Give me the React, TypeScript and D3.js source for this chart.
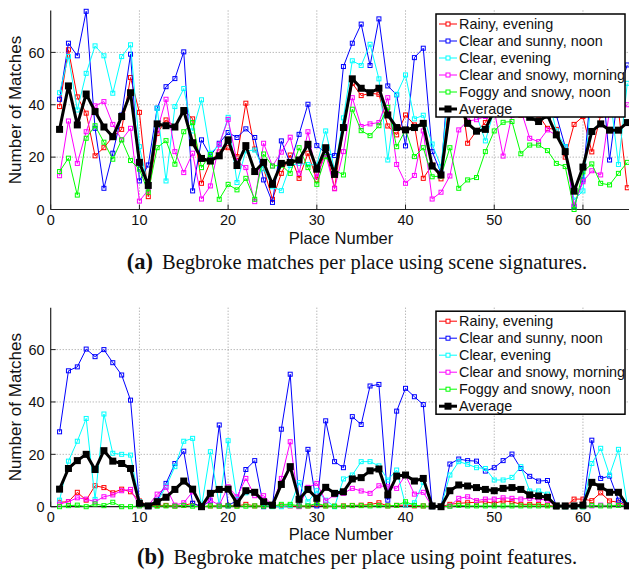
import React from 'react';
import * as d3 from 'd3';

const placeNumbers = d3.range(1, 66);
const seriesNames = ['Rainy, evening', 'Clear and sunny, noon', 'Clear, evening', 'Clear and snowy, morning', 'Foggy and snowy, noon', 'Average'];
const seriesColors = ['#ff0000', '#0000ff', '#00ffff', '#ff00ff', '#00ff00', '#000000'];
const xTicks = [0, 10, 20, 30, 40, 50, 60];
const yTicks = [0, 20, 40, 60];

// (a) scene signatures
const sceneRainy = [39.3, 61, 43, 36.8, 20.5, 23.6, 27.8, 30.6, 50.4, 37.1,
  4.9, 29, 34.2, 31.7, 38, 34.6, 10, 18.3, 22, 23.6,
  20.2, 40.6, 23.1, 15.7, 3.9, 13.8, 20.8, 11.9, 21.5, 11.3,
  23.4, 8.1, 31, 48.2, 43.5, 44.4, 44, 31.9, 28.5, 36.1,
  32.3, 11.9, 17, 11.7, 45, 50, 25.3, 30, 33.2, 40,
  42, 38, 36, 40, 36, 31, 30.6, 20, 32.5, 35.5,
  22, 36, 40, 38, 8.3];
const sceneSunny = [42.1, 63.5, 58.7, 75.7, 31, 8.1, 21.5, 36.1, 59.3, 10.9,
  17, 38.7, 46.9, 50, 60.2, 7.1, 26.6, 20.4, 25.3, 29.4,
  27.5, 30.8, 27.5, 11.3, 2.7, 26.2, 17.6, 28.7, 40.2, 24.4,
  21.5, 20.6, 54.6, 63.5, 70.8, 55, 72.8, 47.2, 43.8, 24.3,
  58, 61.6, 22.1, 14, 58, 60, 50, 38, 36, 45,
  48, 46, 44, 44, 42, 52, 36, 24, 1.1, 11.3,
  50, 55, 18.9, 45, 55.2];
const sceneClear = [44.6, 58.4, 38, 52, 62.5, 58.7, 44.4, 58.4, 62.9, 24,
  8.7, 38.7, 10.9, 39.3, 46.2, 30, 41.9, 21.5, 24.6, 35.2,
  10.3, 22.4, 22.7, 15.5, 8.7, 7.2, 16.8, 17.6, 17.2, 17,
  30, 15.1, 35, 56.8, 55, 63.1, 49.9, 18.9, 44, 51.4,
  34.6, 36, 25, 16.4, 50, 55, 44, 36, 26.2, 38,
  42, 40, 44, 40, 39.5, 44, 30, 24, 3.6, 7.1,
  44.8, 49, 45, 17.2, 48.2];
const sceneSnowy = [12.9, 33.8, 17.6, 29.7, 39.6, 41.2, 32.5, 26.6, 31, 3.2,
  7.5, 30.1, 42.1, 22.1, 14.1, 21.5, 4, 9, 24.9, 34.4,
  18.3, 16, 3, 25.3, 16.6, 21.9, 27.6, 13.8, 29.7, 12.5,
  21.2, 7.9, 22.1, 42.7, 31.7, 32.7, 33.2, 42.7, 17.2, 10,
  13, 30, 4, 6.6, 12.8, 30.4, 33.8, 34.3, 35.5, 38,
  20.4, 36, 38, 27.2, 25.9, 30.4, 28.3, 22, 1.7, 10.6,
  14.8, 13.2, 38, 37.5, 40];
const sceneFoggy = [14.5, 19.6, 5.5, 27.2, 32, 25.7, 19.2, 26.6, 18.7, 15.4,
  6.6, 23.6, 26.3, 17.3, 29.7, 33.2, 16, 21, 3.9, 9.6,
  7.5, 11.9, 3.9, 21.2, 16.6, 16.9, 13.8, 23.6, 16, 9.6,
  20.2, 15.1, 13.2, 38.3, 30.1, 28.2, 32, 39, 24, 30.4,
  20.2, 23.6, 12.5, 12.8, 23.6, 8.1, 11.3, 12.2, 22.1, 30,
  33.3, 33.6, 21.3, 24.6, 24.6, 22.5, 17.6, 16.4, 0, 14.4,
  17.4, 10, 9.4, 13.8, 18];
const sceneAverage = [30.6, 47.2, 32.3, 44.1, 37.4, 31.5, 27.8, 35.5, 44.6, 18,
  9.2, 32.7, 32, 31.5, 37.8, 25.5, 19.5, 18.5, 20.5, 26.6,
  16.8, 24.4, 14.5, 18, 9.6, 17.6, 18, 18.9, 24.9, 15.4,
  23.6, 13.4, 31.3, 49.9, 46.3, 44.6, 46.3, 36.1, 31.3, 30.4,
  31.3, 32.9, 16.6, 13.2, 38, 40.7, 32.9, 29.9, 30.6, 38,
  37, 38.7, 36.7, 35.2, 33.6, 36, 28.5, 22.1, 7, 16.2,
  29.8, 32.7, 30.3, 30.3, 33.2];

// (b) point features
const pointRainy = [1.7, 1.9, 5.5, 2.5, 8, 7.3, 5.3, 6.7, 5.7, 2.2,
  0.4, 0.5, 0.5, 0.3, 0.5, 1.3, 0, 0.3, 0.3, 0.5,
  0.3, 0.9, 0.3, 0.3, 0.2, 0.3, 0.3, 0.2, 0.3, 0.8,
  0.3, 0.2, 0.3, 0.5, 0.6, 0.8, 1.5, 0.3, 0.5, 0.6,
  0.3, 0.3, 0, 0, 0.9, 1.3, 1.5, 1.7, 1.9, 1.3,
  2.2, 1.9, 0.9, 0.9, 0.9, 0.6, 0, 0, 2.9, 2.9,
  2.3, 5.3, 2.2, 1.7, 0.3];
const pointSunny = [28.6, 51.9, 53.4, 60.2, 57.3, 60, 55, 50.3, 40.7, 1.3,
  0, 2.5, 8.9, 16.5, 21.2, 1.3, 0, 2.2, 31.2, 0.3,
  2.5, 14.2, 17.6, 0, 0.4, 29.6, 50.6, 0.4, 21.9, 0.3,
  32.8, 17.2, 14.9, 34.4, 31.4, 46.1, 46.7, 2.5, 36.5, 45.2,
  42, 39, 0, 0, 16.3, 18.2, 17.6, 17.4, 13.6, 14.9,
  17.6, 20.1, 14.6, 11.6, 9.8, 10, 0.3, 0, 0, 0,
  25.4, 10.8, 11.7, 2.5, 0.6];
const pointClear = [2.5, 17.4, 25, 33.7, 2.8, 35.4, 20.4, 20, 19.7, 1.9,
  0.4, 1.9, 7.6, 15.3, 25, 26.1, 0, 21, 0.6, 25.2,
  2.8, 5.3, 5.3, 1.3, 0, 0, 0.4, 9.2, 1.9, 6.1,
  2.5, 0, 10.6, 12.1, 17.2, 17.2, 15.6, 10.2, 14, 0.6,
  1.5, 9.3, 0, 0, 12.1, 17.2, 16.2, 14.9, 14.6, 10.2,
  10.2, 11.2, 15.3, 6, 6, 4.8, 0, 0, 0, 0,
  16.5, 22.3, 12.1, 21.9, 0.6];
const pointSnowy = [1, 1.9, 3.4, 2.9, 1.9, 3.8, 4.5, 6.1, 6.6, 0.4,
  0.4, 4.8, 7.4, 0.6, 1.5, 5.7, 0, 2.5, 0.6, 7.6,
  3.8, 10.8, 4.2, 4.2, 0.4, 10.8, 24.8, 0, 7.4, 8.9,
  2.2, 4.5, 5.1, 7, 6, 5.1, 8, 7.6, 7, 12.1,
  4.8, 5.5, 0, 0, 0.3, 3.2, 3.8, 2.3, 2.9, 2.9,
  3.4, 3.2, 2.9, 3.2, 2.9, 2.5, 0, 0.3, 0.3, 0.3,
  0.3, 0.6, 0.4, 0.6, 0.5];
const pointFoggy = [0, 0.4, 0.6, 0, 1, 0.4, 1.7, 0, 0, 0.3,
  0.2, 0.2, 0.3, 0.2, 0.5, 0.2, 0, 0.3, 0.2, 0.3,
  0.2, 0.2, 0.3, 0.2, 0.2, 0.9, 0.9, 0.3, 0.3, 1.3,
  0.3, 0.2, 0.2, 0.4, 0.4, 0.3, 0.4, 0.3, 0.5, 1.9,
  0.5, 0.3, 0, 0, 0.2, 0.5, 0.3, 0.3, 0.3, 0.3,
  0.3, 0.3, 0.3, 0.3, 0.3, 0.3, 0, 0, 0, 0,
  0.5, 0.3, 0.3, 0.5, 0.3];
const pointAverage = [6.7, 14.6, 17.6, 20, 14.2, 21.4, 17.4, 16.5, 14.6, 1.3,
  0.3, 1.9, 3.6, 6.6, 9.8, 6.7, 0, 5.1, 6.6, 6.7,
  1.3, 6.1, 5.5, 1.9, 0.6, 8.5, 15.3, 2.8, 6.6, 3.2,
  7.4, 5.1, 5.7, 10.6, 11.1, 13.7, 14.4, 4.5, 11.7, 12.1,
  9.8, 10.8, 0.3, 0, 6.1, 8.3, 7.9, 7.3, 6.6, 6.1,
  7, 7.3, 6.6, 4.5, 4.1, 3.6, 0.3, 0.3, 0.3, 0.6,
  9.3, 7.6, 5.5, 5.5, 0.3];

const sceneSeries = [sceneRainy, sceneSunny, sceneClear, sceneSnowy, sceneFoggy, sceneAverage];
const pointSeries = [pointRainy, pointSunny, pointClear, pointSnowy, pointFoggy, pointAverage];

const SANS = '"Liberation Sans", Arial, Helvetica, sans-serif';
const SERIF = '"Liberation Serif", "Times New Roman", serif';

const X0 = 50.7;
const X1 = 627.3;

function Panel({ series, y0, xLabelY, captionY, label, caption }: { series: number[][]; y0: number; xLabelY: number; captionY: number; label: string; caption: string }) {
  const x = d3.scaleLinear().domain([0, 65]).range([X0, X1]);
  const y = d3.scaleLinear().domain([0, 76]).range([y0, y0 - 199]);
  const line = d3.line<number>().x((_, i) => x(placeNumbers[i])).y((d) => y(d));
  const legX = 436;
  const legY = y0 - 195.5;
  return (
    <g>
      {xTicks.filter((t) => t > 0).map((t) => (
        <line key={'gx' + t} x1={x(t)} x2={x(t)} y1={y(0)} y2={y(76)} stroke="#9a9a9a" strokeWidth={1} strokeDasharray="1,2" />
      ))}
      {yTicks.filter((t) => t > 0).map((t) => (
        <line key={'gy' + t} x1={X0} x2={629} y1={y(t)} y2={y(t)} stroke="#9a9a9a" strokeWidth={1} strokeDasharray="1,2" />
      ))}
      <line x1={X0} x2={X0} y1={y(0)} y2={y(76)} stroke="#222" strokeWidth={1.2} />
      <line x1={X0} x2={629} y1={y(0)} y2={y(0)} stroke="#222" strokeWidth={1.2} />
      {xTicks.map((t) => (
        <g key={'xt' + t}>
          <line x1={x(t)} x2={x(t)} y1={y(0)} y2={y(0) - 5} stroke="#222" strokeWidth={1} />
          <text x={x(t)} y={y(0) + 15} textAnchor="middle" fontFamily={SANS} fontSize={14.5} fill="#111">{t}</text>
        </g>
      ))}
      {yTicks.map((t) => (
        <g key={'yt' + t}>
          <line x1={X0} x2={X0 + 5} y1={y(t)} y2={y(t)} stroke="#222" strokeWidth={1} />
          <text x={X0 - 6} y={y(t)} dy="0.36em" textAnchor="end" fontFamily={SANS} fontSize={14.5} fill="#111">{t}</text>
        </g>
      ))}
      <text transform={`translate(21,${(y(0) + y(76)) / 2}) rotate(-90)`} textAnchor="middle" fontFamily={SANS} fontSize={17} fill="#111">Number of Matches</text>
      <text x={(X0 + X1) / 2 + 2} y={xLabelY} textAnchor="middle" fontFamily={SANS} fontSize={16.5} fill="#111">Place Number</text>
      {series.map((s, si) => {
        const isAvg = si === 5;
        const c = seriesColors[si];
        return (
          <g key={'s' + si}>
            <path d={line(s) || ''} fill="none" stroke={c} strokeWidth={isAvg ? 3 : 1} strokeLinejoin="round" />
            {s.map((v, i) => isAvg ? (
              <rect key={i} x={x(placeNumbers[i]) - 3.5} y={y(v) - 3.5} width={7} height={7} fill="#000" />
            ) : (
              <rect key={i} x={x(placeNumbers[i]) - 2} y={y(v) - 2} width={4} height={4} fill="none" stroke={c} strokeWidth={1} />
            ))}
          </g>
        );
      })}
      <rect x={legX} y={legY} width={189} height={103} fill="#fff" stroke="#000" strokeWidth={1.5} />
      {seriesNames.map((n, i) => {
        const cy = legY + 10 + i * 17;
        const isAvg = i === 5;
        return (
          <g key={'l' + i}>
            <line x1={legX + 3} x2={legX + 21} y1={cy} y2={cy} stroke={seriesColors[i]} strokeWidth={isAvg ? 3 : 1} />
            {isAvg ? (
              <rect x={legX + 12 - 3.5} y={cy - 3.5} width={7} height={7} fill="#000" />
            ) : (
              <rect x={legX + 12 - 2} y={cy - 2} width={4} height={4} fill="#fff" stroke={seriesColors[i]} strokeWidth={1} />
            )}
            <text x={legX + 23} y={cy} dy="0.36em" fontFamily={SANS} fontSize={14.4} fill="#111">{n}</text>
          </g>
        );
      })}
      <text x={357} y={captionY} textAnchor="middle" fontFamily={SERIF} fontSize={20.5} fill="#111">
        <tspan fontWeight="bold" fontSize={22.5}>{label}</tspan>
        <tspan dx={9}>{caption}</tspan>
      </text>
    </g>
  );
}

export default function App() {
  return (
    <svg width={629} height={571} viewBox="0 0 629 571" style={{ position: 'absolute', left: 0, top: 0, background: '#fff' }}>
      <rect x={0} y={0} width={629} height={571} fill="#fff" />
      <Panel series={sceneSeries} y0={209.5} xLabelY={244} captionY={269} label="(a)" caption="Begbroke matches per place using scene signatures." />
      <Panel series={pointSeries} y0={506.7} xLabelY={540} captionY={563.5} label="(b)" caption="Begbroke matches per place using point features." />
    </svg>
  );
}
